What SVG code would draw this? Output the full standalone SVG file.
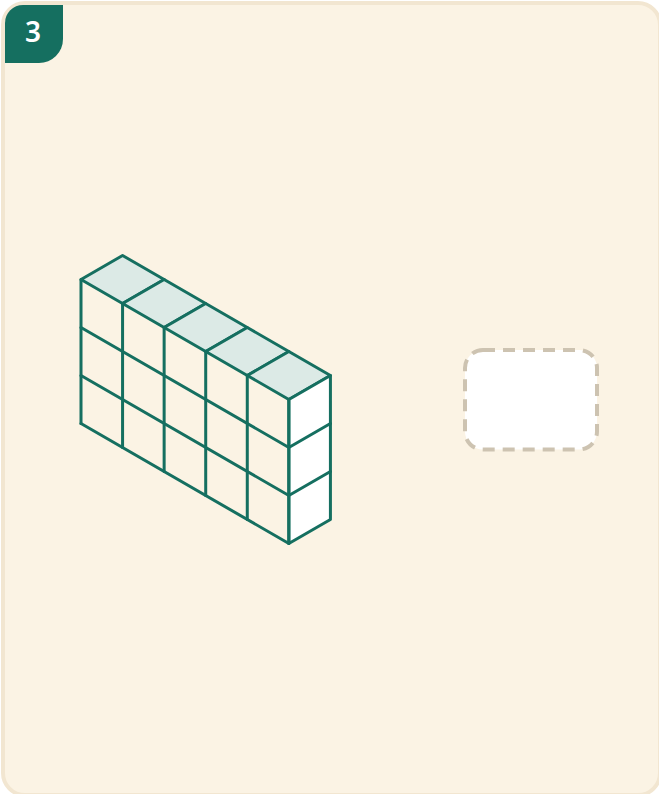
<svg xmlns="http://www.w3.org/2000/svg" width="659" height="794" viewBox="0 0 659 794">
<style>
.l{stroke:#156f60;stroke-width:3;stroke-linecap:round;stroke-linejoin:round;fill:none}
.t{fill:#dceae6;stroke:#156f60;stroke-width:3;stroke-linejoin:round}
.s{fill:#fff;stroke:#156f60;stroke-width:3;stroke-linejoin:round}
</style>
<rect width="659" height="794" fill="#fff"/>
<g id="card"><rect x="3" y="3" width="657" height="792" rx="22" fill="#fbf3e4" stroke="#f2e6d1" stroke-width="4"/></g>
<g id="badge"><path d="M5 63V23A18 18 0 0 1 23 5H63V39A24 24 0 0 1 39 63Z" fill="#156f60"/>
<text x="33" y="42" text-anchor="middle" font-family="'Noto Sans',sans-serif" font-size="28" font-weight="600" fill="#fff">3</text></g>
<g id="cuboid">
<path class="t" d="M81 279.500L122.570 255.500L164.140 279.500L122.570 303.500Z"/>
<path class="t" d="M122.570 303.500L164.140 279.500L205.710 303.500L164.140 327.500Z"/>
<path class="t" d="M164.140 327.500L205.710 303.500L247.280 327.500L205.710 351.500Z"/>
<path class="t" d="M205.710 351.500L247.280 327.500L288.850 351.500L247.280 375.500Z"/>
<path class="t" d="M247.280 375.500L288.850 351.500L330.420 375.500L288.850 399.500Z"/>
<path class="s" d="M288.850 399.500L330.420 375.500V519.500L288.850 543.500Z"/>
<path class="l" d="M81 279.500V423.500M122.570 303.500V447.500M164.140 327.500V471.500M205.710 351.500V495.500M247.280 375.500V519.500M288.850 399.500V543.500"/>
<path class="l" d="M81 327.500L288.850 447.500L330.420 423.500M81 375.500L288.850 495.500L330.420 471.500M81 423.500L288.850 543.500"/>
</g>
<g id="answer-box"><rect x="465" y="350" width="132" height="99.500" rx="18" fill="#fff" stroke="#cdc3b1" stroke-width="4" stroke-dasharray="12 8"/></g>
</svg>
